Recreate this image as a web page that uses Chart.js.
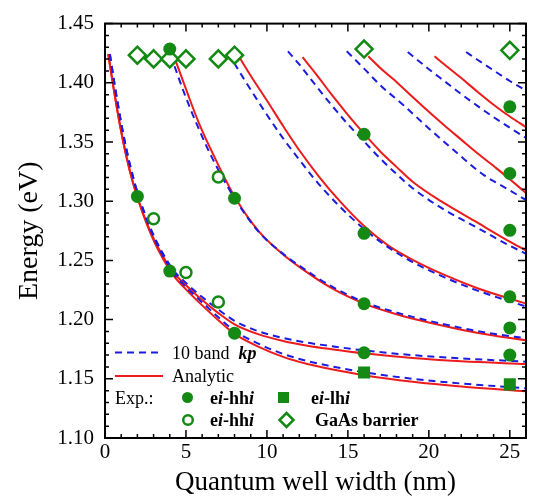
<!DOCTYPE html>
<html>
<head>
<meta charset="utf-8">
<script src="https://cdn.jsdelivr.net/npm/chart.js@4.4.0/dist/chart.umd.min.js"></script>
<style>
  html, body { margin: 0; padding: 0; background: #fff; }
  #chart { display: block; }
</style>
</head>
<body>
<canvas id="chart" width="537" height="501"></canvas>
<script>
// tick labels
const xTicks = [0, 5, 10, 15, 20, 25];
const yTicks = [1.10, 1.15, 1.20, 1.25, 1.30, 1.35, 1.40, 1.45];

// experimental points
const hhX = [2, 4, 4, 8, 8, 16, 16, 16, 16, 25, 25, 25, 25, 25, 25];
const hhY = [1.304, 1.4285, 1.241, 1.3025, 1.1885, 1.3565, 1.2729, 1.2134, 1.172, 1.3797, 1.3234, 1.2754, 1.2192, 1.1930, 1.1700];
const lhX = [16, 25];
const lhY = [1.1554, 1.1453];
const hhOpenX = [3, 5, 7, 7];
const hhOpenY = [1.2851, 1.2398, 1.3204, 1.2148];
const barrierX = [2, 3, 4, 5, 7, 8, 16, 25];
const barrierY = [1.4233, 1.4202, 1.4202, 1.4202, 1.4202, 1.4233, 1.4285, 1.4274];

// analytic model (red)
const r1X = [0.2, 0.5, 0.9, 1.3, 1.7, 2.1, 2.6, 3.1, 3.6, 4.1, 5, 6, 7, 8, 9.5, 11, 12.5, 14, 16, 19, 22, 26];
const r1Y = [1.4243, 1.398, 1.366, 1.339, 1.317, 1.299, 1.28, 1.264, 1.251, 1.2395, 1.2255, 1.212, 1.1995, 1.188, 1.177, 1.1685, 1.1625, 1.158, 1.153, 1.1475, 1.1435, 1.1395];
const r2X = [0.2, 0.5, 0.9, 1.3, 1.7, 2.1, 2.6, 3.1, 3.6, 4.1, 5, 6, 7, 8, 9.5, 11, 12.5, 14, 16, 19, 22, 26];
const r2Y = [1.4243, 1.398, 1.366, 1.339, 1.317, 1.2995, 1.281, 1.2655, 1.253, 1.242, 1.229, 1.2165, 1.2055, 1.196, 1.1875, 1.182, 1.178, 1.175, 1.1715, 1.1675, 1.1648, 1.1625];
const r3X = [4.3, 5.1, 5.8, 6.7, 8.0, 9.5, 11, 12, 14, 16, 18, 20, 22, 24, 26];
const r3Y = [1.421, 1.391, 1.366, 1.339, 1.304, 1.2745, 1.255, 1.2445, 1.2265, 1.2135, 1.2045, 1.1975, 1.1915, 1.1865, 1.1825];
const r4X = [8.3, 9, 10, 11, 12, 13.2, 14.5, 16, 17.5, 19, 21, 23, 26];
const r4Y = [1.4216, 1.406, 1.385, 1.3635, 1.343, 1.321, 1.300, 1.279, 1.2625, 1.2505, 1.2375, 1.2265, 1.2135];
const r5X = [12.2, 13, 14, 15, 16, 17, 18, 19, 20.75, 22.8, 24.85, 26];
const r5Y = [1.4216, 1.408, 1.390, 1.373, 1.357, 1.342, 1.329, 1.3165, 1.300, 1.2835, 1.267, 1.2585];
const r6X = [16.26, 17, 18.1, 19, 20, 21, 22, 23, 24.2, 25, 26];
const r6Y = [1.4224, 1.4125, 1.3995, 1.388, 1.3755, 1.3635, 1.352, 1.3405, 1.3275, 1.3185, 1.307];
const r7X = [20.35, 21, 22, 23, 24, 25, 26];
const r7Y = [1.4224, 1.415, 1.404, 1.3925, 1.3815, 1.3715, 1.3625];

// 10 band kp (blue dashed)
const b1X = [0.3, 0.6, 1.0, 1.4, 1.8, 2.2, 2.7, 3.2, 3.7, 4.2, 5, 6, 7, 8, 9.5, 11, 12.5, 14, 16, 19, 22, 26];
const b1Y = [1.4243, 1.398, 1.366, 1.339, 1.317, 1.299, 1.28, 1.264, 1.251, 1.2395, 1.2275, 1.2145, 1.202, 1.1905, 1.1795, 1.171, 1.165, 1.1605, 1.1555, 1.150, 1.146, 1.142];
const b2X = [0.3, 0.6, 1.0, 1.4, 1.8, 2.2, 2.7, 3.2, 3.7, 4.2, 5, 6, 7, 8, 9.5, 11, 12.5, 14, 16, 19, 22, 26];
const b2Y = [1.4243, 1.398, 1.366, 1.339, 1.317, 1.2995, 1.281, 1.2655, 1.253, 1.242, 1.231, 1.219, 1.2085, 1.199, 1.190, 1.1845, 1.1805, 1.1775, 1.174, 1.170, 1.1672, 1.1645];
const b3X = [4.05, 4.9, 5.7, 6.6, 8.0, 9.5, 11, 12, 14, 16, 18, 20, 22, 24, 26];
const b3Y = [1.4235, 1.391, 1.364, 1.337, 1.3025, 1.274, 1.2555, 1.2455, 1.228, 1.2148, 1.206, 1.199, 1.193, 1.188, 1.1842];
const b4X = [7.6, 8.5, 10, 11, 12, 13.2, 14.5, 16, 17.5, 19, 21, 23, 26];
const b4Y = [1.4255, 1.405, 1.373, 1.353, 1.335, 1.3145, 1.2955, 1.2765, 1.261, 1.2485, 1.2355, 1.2245, 1.211];
const b5X = [11.3, 12, 13, 14, 15, 16, 17, 18, 19, 20.75, 22.8, 24.85, 26];
const b5Y = [1.4266, 1.4155, 1.398, 1.381, 1.365, 1.3505, 1.336, 1.323, 1.311, 1.2945, 1.279, 1.2635, 1.2556];
const b6X = [14.93, 16, 17, 18.4, 20, 21.8, 23.4, 24.7, 26];
const b6Y = [1.4266, 1.412, 1.398, 1.3815, 1.3615, 1.34, 1.322, 1.3115, 1.301];
const b7X = [18.7, 20, 21, 22, 23, 24, 25, 26];
const b7Y = [1.426, 1.4115, 1.401, 1.3905, 1.3805, 1.371, 1.362, 1.3534];
const b8X = [22.3, 23, 24, 25, 26];
const b8Y = [1.426, 1.4195, 1.4105, 1.4015, 1.3935];

const GREEN = '#148a14';
const RED = '#ec1c1c';
const BLUE = '#1c1ce0';
const SERIF = '"Liberation Serif", "DejaVu Serif", serif';

function pts(xs, ys) {
  return xs.map((x, i) => ({x: x, y: ys[i]}));
}

function curve(xs, ys, color, dashed) {
  return {
    data: pts(xs, ys),
    showLine: true,
    borderColor: color,
    borderWidth: 2,
    borderDash: dashed ? [7, 5] : [],
    pointRadius: 0,
    cubicInterpolationMode: 'monotone',
    fill: false
  };
}

function marks(xs, ys, style, radius, filled) {
  return {
    data: pts(xs, ys),
    showLine: false,
    pointStyle: style,
    pointRadius: radius,
    pointBorderWidth: filled ? 0 : 2.5,
    pointBorderColor: GREEN,
    pointBackgroundColor: filled ? GREEN : '#fff'
  };
}

// first dataset ends up on top
const datasets = [
  marks(hhX, hhY, 'circle', 6.5, true),
  marks(lhX, lhY, 'rect', 8.5, true),
  marks(hhOpenX, hhOpenY, 'circle', 5.5, false),
  marks(barrierX, barrierY, 'rectRot', 8.5, false),
  curve(b1X, b1Y, BLUE, true),
  curve(b2X, b2Y, BLUE, true),
  curve(b3X, b3Y, BLUE, true),
  curve(b4X, b4Y, BLUE, true),
  curve(b5X, b5Y, BLUE, true),
  curve(b6X, b6Y, BLUE, true),
  curve(b7X, b7Y, BLUE, true),
  curve(b8X, b8Y, BLUE, true),
  curve(r1X, r1Y, RED, false),
  curve(r2X, r2Y, RED, false),
  curve(r3X, r3Y, RED, false),
  curve(r4X, r4Y, RED, false),
  curve(r5X, r5Y, RED, false),
  curve(r6X, r6Y, RED, false),
  curve(r7X, r7Y, RED, false)
];

// frame with inward major/minor ticks on all four sides
const frameTicks = {
  id: 'frameTicks',
  afterDraw(chart) {
    const {ctx, chartArea: a, scales: {x, y}} = chart;
    ctx.save();
    ctx.strokeStyle = '#000';
    ctx.lineWidth = 1.5;
    ctx.beginPath();
    for (let v = 0; v <= 26; v++) {
      const px = x.getPixelForValue(v);
      const len = v % 5 === 0 ? 8 : 4;
      ctx.moveTo(px, a.bottom); ctx.lineTo(px, a.bottom - len);
      ctx.moveTo(px, a.top); ctx.lineTo(px, a.top + len);
    }
    for (let k = 110; k <= 145; k++) {
      const py = y.getPixelForValue(k / 100);
      const len = k % 5 === 0 ? 8 : 4;
      ctx.moveTo(a.left, py); ctx.lineTo(a.left + len, py);
      ctx.moveTo(a.right, py); ctx.lineTo(a.right - len, py);
    }
    ctx.stroke();
    ctx.lineWidth = 2;
    ctx.strokeRect(a.left, a.top, a.right - a.left, a.bottom - a.top);
    ctx.restore();
  }
};

function textRuns(ctx, x, y, parts) {
  for (const [txt, font] of parts) {
    ctx.font = font;
    ctx.fillText(txt, x, y);
    x += ctx.measureText(txt).width;
  }
}

// legend box in the lower left corner
const plotLegend = {
  id: 'plotLegend',
  afterDraw(chart) {
    const ctx = chart.ctx;
    const reg = '18px ' + SERIF;
    const bold = 'bold 18px ' + SERIF;
    const boldIt = 'italic bold 18px ' + SERIF;
    ctx.save();
    ctx.lineWidth = 2;
    ctx.strokeStyle = BLUE;
    ctx.setLineDash([7, 5]);
    ctx.beginPath(); ctx.moveTo(115, 352.5); ctx.lineTo(163, 352.5); ctx.stroke();
    ctx.setLineDash([]);
    ctx.strokeStyle = RED;
    ctx.beginPath(); ctx.moveTo(115, 376); ctx.lineTo(163, 376); ctx.stroke();

    ctx.fillStyle = '#000';
    ctx.textBaseline = 'alphabetic';
    textRuns(ctx, 172, 359, [['10 band  ', reg], ['kp', boldIt]]);
    textRuns(ctx, 172, 382, [['Analytic', reg]]);
    textRuns(ctx, 115, 404, [['Exp.:', reg]]);
    const hh = [['e', bold], ['i', boldIt], ['-hh', bold], ['i', boldIt]];
    textRuns(ctx, 210, 404, hh);
    textRuns(ctx, 311, 404, [['e', bold], ['i', boldIt], ['-lh', bold], ['i', boldIt]]);
    textRuns(ctx, 210, 426, hh);
    textRuns(ctx, 315, 426, [['GaAs barrier', bold]]);

    ctx.fillStyle = GREEN;
    ctx.beginPath(); ctx.arc(187.5, 397.5, 5.5, 0, Math.PI * 2); ctx.fill();
    ctx.fillRect(278, 392, 11, 11);
    ctx.strokeStyle = GREEN;
    ctx.lineWidth = 2.5;
    ctx.beginPath(); ctx.arc(188, 420, 4.8, 0, Math.PI * 2); ctx.stroke();
    ctx.beginPath();
    ctx.moveTo(286.5, 413); ctx.lineTo(293.5, 420); ctx.lineTo(286.5, 427); ctx.lineTo(279.5, 420);
    ctx.closePath(); ctx.stroke();
    ctx.restore();
  }
};

new Chart(document.getElementById('chart'), {
  type: 'scatter',
  data: {datasets: datasets},
  options: {
    responsive: false,
    animation: false,
    layout: {padding: {top: 15, right: 8, left: 0, bottom: 0}},
    plugins: {legend: {display: false}, tooltip: {enabled: false}},
    scales: {
      x: {
        type: 'linear',
        min: 0,
        max: 26,
        afterFit: s => { s.height = 63; },
        afterBuildTicks: s => { s.ticks = xTicks.map(v => ({value: v})); },
        grid: {display: false, drawTicks: false, tickLength: 0},
        border: {display: false},
        ticks: {
          color: '#000',
          font: {family: SERIF, size: 21},
          padding: 2,
          maxRotation: 0,
          callback: v => String(v)
        },
        title: {
          display: true,
          text: 'Quantum well width (nm)',
          color: '#000',
          font: {family: SERIF, size: 27},
          padding: {top: 0, bottom: 2}
        }
      },
      y: {
        type: 'linear',
        min: 1.10,
        max: 1.45,
        afterFit: s => { s.width = 105; },
        afterBuildTicks: s => { s.ticks = yTicks.map(v => ({value: v})); },
        grid: {display: false, drawTicks: false, tickLength: 0},
        border: {display: false},
        ticks: {
          color: '#000',
          font: {family: SERIF, size: 21},
          padding: 11,
          callback: v => v.toFixed(2)
        },
        title: {
          display: true,
          text: 'Energy (eV)',
          color: '#000',
          font: {family: SERIF, size: 28},
          padding: {top: 13, bottom: 0}
        }
      }
    }
  },
  plugins: [frameTicks, plotLegend]
});
</script>
</body>
</html>
